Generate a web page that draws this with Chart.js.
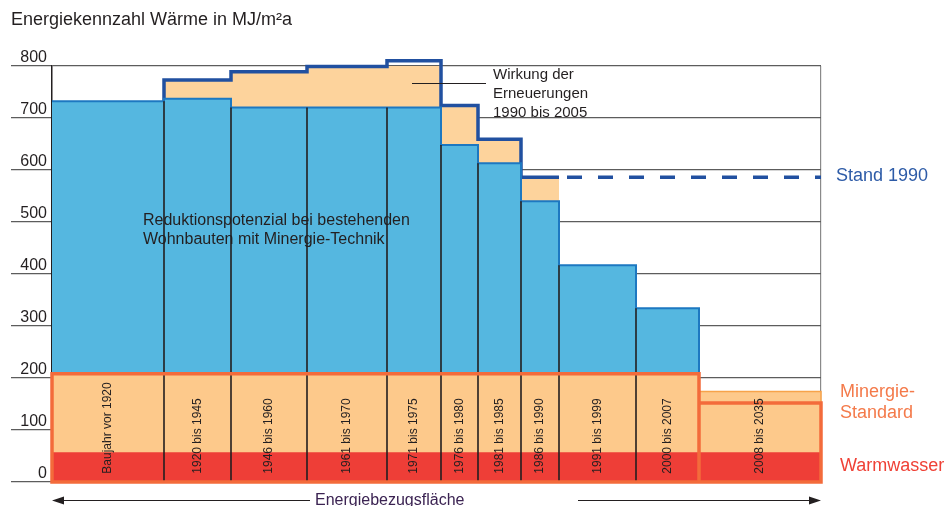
<!DOCTYPE html>
<html lang="de">
<head>
<meta charset="utf-8">
<title>Energiekennzahl Wärme</title>
<script src="https://cdn.jsdelivr.net/npm/chart.js@4.4.1/dist/chart.umd.min.js"></script>
<style>
  html, body { margin: 0; padding: 0; background: #ffffff; }
  #wrap { width: 948px; height: 506px; position: relative; }
</style>
</head>
<body>
<div id="wrap"><canvas id="myChart"></canvas></div>
<script>
// Baujahr-Kategorien; Breite = Anteil Energiebezugsfläche
const kategorien = ['Baujahr vor 1920', '1920 bis 1945', '1946 bis 1960', '1961 bis 1970', '1971 bis 1975',
    '1976 bis 1980', '1981 bis 1985', '1986 bis 1990', '1991 bis 1999', '2000 bis 2007', '2008 bis 2035'];
const flaeche = [112, 67, 76, 80, 54, 37, 43, 38, 77, 63, 122];

// Energiekennzahl Wärme in MJ/m2a
const heute = [732, 737, 720, 720, 720, 648, 613, 540, 417, 334, null];
const stand1990 = [null, 773, 789, 799, 810, 724, 659, 586, null, null, null];
const stand1990Rest = 586;
const minergie = [208, 208, 208, 208, 208, 208, 208, 208, 208, 208, 152];
const minergieObergrenze = [null, null, null, null, null, null, null, null, null, null, 174];
const warmwasser = 57;
const yTicks = [0, 100, 200, 300, 400, 500, 600, 700, 800];

const FONT = "'Liberation Sans', Arial, Helvetica, sans-serif";
const TEXT = '#231f20';

// Kanten der Balken auf der Flächenachse
const kanten = [0];
flaeche.forEach(w => kanten.push(kanten[kanten.length - 1] + w));
const xMax = kanten[kanten.length - 1];

// Treppenpunkte für eine Reihe (Wert gilt ab linker Kante)
function stufen(werte) {
    const pts = [];
    let last = null, lastIdx = -1;
    werte.forEach((v, i) => {
        if (v !== null) {
            pts.push({ x: kanten[i], y: v });
            last = v;
            lastIdx = i;
        }
    });
    pts.push({ x: kanten[lastIdx + 1], y: last });
    return pts;
}

const heutePts = stufen(heute);
heutePts.push({ x: heutePts[heutePts.length - 1].x, y: 0 });

const ersteStand = stand1990.findIndex(v => v !== null);
const letzteStand = stand1990.length - 1 - [...stand1990].reverse().findIndex(v => v !== null);
const standPts = [{ x: kanten[ersteStand], y: heute[ersteStand - 1] }].concat(stufen(stand1990));
const standRestPts = [{ x: kanten[letzteStand + 1], y: stand1990Rest }, { x: xMax, y: stand1990Rest }];

const obergrenzePts = stufen(minergieObergrenze);
obergrenzePts.push({ x: xMax, y: 0 });

// schwarze Trennlinien zwischen den Balken
const trennPts = [];
for (let i = 1; i < heute.length; i++) {
    if (heute[i - 1] === null || heute[i] === null) continue;
    trennPts.push({ x: kanten[i], y: 0 }, { x: kanten[i], y: Math.min(heute[i - 1], heute[i]) }, { x: kanten[i], y: null });
}

// Rahmen um die Minergie-Blöcke
const rahmenPts = [];
let start = 0;
for (let i = 1; i <= minergie.length; i++) {
    if (i === minergie.length || minergie[i] !== minergie[start]) {
        const x0 = kanten[start], x1 = kanten[i], h = minergie[start];
        rahmenPts.push({ x: x0, y: 0 }, { x: x0, y: h }, { x: x1, y: h }, { x: x1, y: 0 }, { x: x0, y: 0 }, { x: x0, y: null });
        start = i;
    }
}

const basis = { pointRadius: 0, pointHoverRadius: 0, tension: 0, stepped: 'before', clip: false, spanGaps: false };

const beschriftung = {
    id: 'beschriftung',
    afterDatasetsDraw(chart) {
        const ctx = chart.ctx;
        const x = chart.scales.x, y = chart.scales.y;
        const area = chart.chartArea;
        ctx.save();

        // Kategorien senkrecht in den Balken
        ctx.fillStyle = TEXT;
        ctx.font = '12px ' + FONT;
        ctx.textAlign = 'left';
        ctx.textBaseline = 'middle';
        kategorien.forEach((k, i) => {
            const xc = x.getPixelForValue((kanten[i] + kanten[i + 1]) / 2);
            ctx.save();
            ctx.translate(xc, y.getPixelForValue(16));
            ctx.rotate(-Math.PI / 2);
            ctx.fillText(k, 0, 0);
            ctx.restore();
        });

        // Titel
        ctx.font = '18px ' + FONT;
        ctx.fillText('Energiekennzahl Wärme in MJ/m²a', 11, 20);

        // Reduktionspotenzial
        ctx.font = '16px ' + FONT;
        ctx.fillText('Reduktionspotenzial bei bestehenden', 143, 221);
        ctx.fillText('Wohnbauten mit Minergie-Technik', 143, 240);

        // Wirkung der Erneuerungen
        ctx.font = '15px ' + FONT;
        ctx.fillText('Wirkung der', 493, 75);
        ctx.fillText('Erneuerungen', 493, 94);
        ctx.fillText('1990 bis 2005', 493, 112.5);
        ctx.strokeStyle = TEXT;
        ctx.lineWidth = 1;
        ctx.beginPath();
        ctx.moveTo(412, 83.5);
        ctx.lineTo(486, 83.5);
        ctx.stroke();

        // Legende rechts
        ctx.font = '18px ' + FONT;
        ctx.fillStyle = '#2d5ba7';
        ctx.fillText('Stand 1990', area.right + 15, y.getPixelForValue(stand1990Rest) - 1);
        ctx.fillStyle = '#f47a4a';
        ctx.fillText('Minergie-', area.right + 19, 392);
        ctx.fillText('Standard', area.right + 19, 413);
        ctx.fillStyle = '#ef4136';
        ctx.fillText('Warmwasser', area.right + 19, 466);

        // Pfeil Energiebezugsfläche
        const ay = 500.5;
        ctx.strokeStyle = TEXT;
        ctx.fillStyle = TEXT;
        ctx.beginPath();
        ctx.moveTo(area.left + 8, ay);
        ctx.lineTo(310, ay);
        ctx.moveTo(578, ay);
        ctx.lineTo(area.right - 8, ay);
        ctx.stroke();
        ctx.beginPath();
        ctx.moveTo(area.left, ay);
        ctx.lineTo(area.left + 12, ay - 4);
        ctx.lineTo(area.left + 12, ay + 4);
        ctx.closePath();
        ctx.fill();
        ctx.beginPath();
        ctx.moveTo(area.right, ay);
        ctx.lineTo(area.right - 12, ay - 4);
        ctx.lineTo(area.right - 12, ay + 4);
        ctx.closePath();
        ctx.fill();
        ctx.fillStyle = '#3b2352';
        ctx.font = '16px ' + FONT;
        ctx.textBaseline = 'alphabetic';
        ctx.fillText('Energiebezugsfläche', 315, 505);

        ctx.restore();
    }
};

function initChart() {
    const canvas = document.getElementById('myChart');
    if (typeof Chart === 'undefined') {
        setTimeout(initChart, 500);
        return;
    }
    Chart.defaults.font.family = FONT;

    const config = {
        type: 'line',
        data: {
            datasets: [
                { ...basis, label: 'Stand 1990', data: standPts, order: 10,
                  fill: 'origin', backgroundColor: '#fdd39c', borderColor: '#2150a0', borderWidth: 3.5 },
                { ...basis, label: 'Stand 1990 (Rest)', data: standRestPts, order: 9, stepped: false,
                  fill: false, borderColor: '#2150a0', borderWidth: 3.5, borderDash: [15, 16], borderDashOffset: 23 },
                { ...basis, label: 'Heute', data: heutePts, order: 8,
                  fill: 'origin', backgroundColor: '#55b7e0', borderColor: '#1d78c1', borderWidth: 2 },
                { ...basis, label: 'Minergie Neubau', data: obergrenzePts, order: 7,
                  fill: 'origin', backgroundColor: '#fdc98b', borderColor: '#f7a34a', borderWidth: 1.5 },
                { ...basis, label: 'Minergie-Standard', data: stufen(minergie), order: 6,
                  fill: 'origin', backgroundColor: '#fdc98b', borderWidth: 0, borderColor: 'transparent' },
                { ...basis, label: 'Warmwasser', data: [{ x: 0, y: warmwasser }, { x: xMax, y: warmwasser }], order: 5,
                  fill: 'origin', backgroundColor: '#ee3e37', borderWidth: 0, borderColor: 'transparent' },
                { ...basis, label: 'Trennlinien', data: trennPts, order: 4,
                  fill: false, borderColor: '#231f20', borderWidth: 1.6 },
                { ...basis, label: 'Rahmen', data: rahmenPts, order: 3,
                  fill: false, borderColor: '#f36b3b', borderWidth: 3.5, borderCapStyle: 'square' }
            ]
        },
        options: {
            responsive: true,
            maintainAspectRatio: false,
            animation: false,
            devicePixelRatio: 1,
            plugins: {
                legend: { display: false },
                title: { display: false },
                tooltip: { enabled: false }
            },
            layout: {
                padding: { top: 66, right: 127, bottom: 24, left: 11 }
            },
            scales: {
                x: {
                    type: 'linear',
                    min: 0,
                    max: xMax,
                    afterBuildTicks: (s) => { s.ticks = [{ value: xMax }]; },
                    afterFit: (s) => { s.height = 0; },
                    grid: { color: '#8a8a8a', lineWidth: 1.2, drawTicks: false },
                    border: { display: false },
                    ticks: { display: false }
                },
                y: {
                    type: 'linear',
                    min: yTicks[0],
                    max: yTicks[yTicks.length - 1],
                    afterBuildTicks: (s) => { s.ticks = yTicks.map(v => ({ value: v })); },
                    afterFit: (s) => { s.width = 41; },
                    grid: { color: '#5c5c5c', lineWidth: 1.2, tickLength: 41 },
                    border: { display: true, color: '#231f20', width: 1.5 },
                    ticks: {
                        padding: -36,
                        color: TEXT,
                        font: { size: 16, lineHeight: 1.1 },
                        callback: (v) => [String(v), '']
                    }
                }
            }
        },
        plugins: [beschriftung]
    };

    window.energieChart = new Chart(canvas, config);
}

document.addEventListener('DOMContentLoaded', initChart);
</script>
</body>
</html>
